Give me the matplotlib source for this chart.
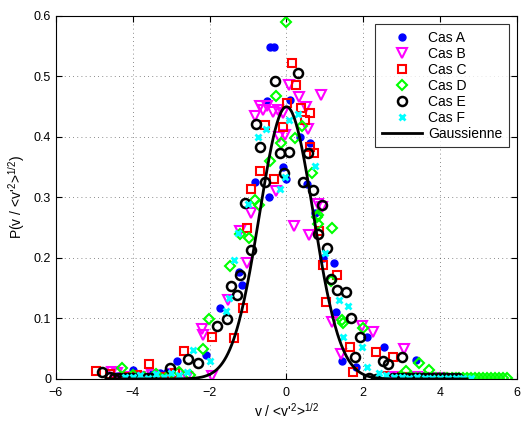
import numpy as np
import matplotlib
matplotlib.use('Agg')
import matplotlib.pyplot as plt

plt.rcParams['font.family'] = ['Liberation Sans', 'DejaVu Sans']
plt.rcParams['mathtext.fontset'] = 'custom'
plt.rcParams['mathtext.rm'] = 'Liberation Sans'
plt.rcParams['mathtext.it'] = 'Liberation Sans'

# Cas A - blue filled circles
xa = [-0.43, -0.33, 0.10, -0.50, 0.61, 0.35, -0.10, -0.01, -0.82, 0.53, 0.74, 1.24, 1.29,
      -1.73, 1.44, 2.09, 2.54, 3.36, -2.86, -4.00, -1.23, -1.17, -0.45, 0.95, -2.10,
      -3.50, -3.30, -3.10, -4.40, 2.80, 3.10, 3.60, 1.80]
ya = [0.548, 0.548, 0.461, 0.460, 0.390, 0.400, 0.350, 0.330, 0.326, 0.322, 0.274, 0.191, 0.110,
      0.117, 0.029, 0.069, 0.053, 0.032, 0.029, 0.015, 0.177, 0.155, 0.300, 0.200, 0.040,
      0.008, 0.010, 0.012, 0.005, 0.006, 0.004, 0.003, 0.020]

# Cas B - magenta triangles
xb = [0.07, 0.33, 0.51, -0.82, -0.69, -0.50, -0.36, -0.21, -0.60, -0.04, -0.20, 0.57, -0.27,
      0.83, 0.92, -0.93, 0.20, 0.59, -1.20, -1.04, -1.52, 1.18, 1.96, 2.26, -2.20, -2.17,
      1.41, 3.06, -1.95, -4.55, -4.40, -4.10, -3.80, -3.50, -3.20, -2.90, -2.60,
      2.80, 3.10, 3.40, 3.70, 4.00, 0.90, -0.10]
yb = [0.486, 0.466, 0.450, 0.435, 0.451, 0.451, 0.442, 0.445, 0.445, 0.403, 0.400, 0.414, 0.310,
      0.290, 0.285, 0.274, 0.253, 0.238, 0.245, 0.191, 0.131, 0.095, 0.088, 0.077, 0.082, 0.073,
      0.042, 0.050, 0.005, 0.012, 0.010, 0.004, 0.003, 0.006, 0.002, 0.008, 0.004,
      0.003, 0.002, 0.004, 0.002, 0.001, 0.470, 0.440]

# Cas C - red squares
xc = [0.14, 0.25, 0.02, 0.37, 0.60, 0.48, -0.55, -0.10, 0.72, -0.69, -0.33, -0.92, -1.04,
      0.85, 0.96, 1.31, -1.13, 1.04, -1.95, -1.37, 1.65, 2.33, 2.77, -2.67, -3.57, 1.74,
      -4.96, -4.60, -4.20, -3.90, -3.20, -2.90, 2.55, 3.00, 3.30, 0.62]
yc = [0.523, 0.486, 0.456, 0.448, 0.440, 0.428, 0.420, 0.416, 0.373, 0.344, 0.330, 0.314, 0.250,
      0.245, 0.188, 0.172, 0.117, 0.128, 0.069, 0.067, 0.053, 0.045, 0.037, 0.046, 0.024, 0.012,
      0.013, 0.008, 0.004, 0.006, 0.003, 0.010, 0.005, 0.003, 0.002, 0.384]

# Cas D - green diamonds
xd = [0.00, -0.27, -0.15, 0.40, 0.22, -0.43, 0.66, -0.82, -0.71, 0.83, 0.79, -1.21, -0.97,
      0.83, 1.19, -1.47, 1.17, -2.01, 1.45, 1.98, -2.17, 3.46, 3.70, -4.29, 3.11, 1.48,
      -4.00, -3.70, -3.40, -3.10, -2.80, -2.50,
      2.96, 3.07, 3.17, 3.27, 3.37, 3.48, 3.58, 3.68, 3.78, 3.89, 3.99, 4.09, 4.19, 4.30,
      4.40, 4.50, 4.60, 4.71, 4.81, 4.91, 5.01, 5.12, 5.22, 5.32, 5.42, 5.53, 5.63, 5.73]
yd = [0.590, 0.467, 0.390, 0.418, 0.398, 0.360, 0.340, 0.296, 0.288, 0.271, 0.268, 0.240, 0.233,
      0.257, 0.250, 0.186, 0.162, 0.099, 0.097, 0.085, 0.050, 0.026, 0.015, 0.018, 0.014, 0.093,
      0.006, 0.004, 0.008, 0.003, 0.012, 0.006,
      0.003, 0.002, 0.002, 0.002, 0.001, 0.002, 0.001, 0.001, 0.001, 0.001, 0.001, 0.001, 0.001, 0.001,
      0.001, 0.001, 0.001, 0.001, 0.001, 0.001, 0.001, 0.001, 0.001, 0.001, 0.001, 0.001, 0.001, 0.001]

# Cas E - black open circles
xe = [0.31, -0.30, -0.80, -0.69, -0.17, 0.06, 0.57, -0.07, -0.56, 0.42, 0.69, -1.07, 0.92,
      0.83, -0.93, 1.06, -1.20, 1.15, -1.45, -1.30, 1.32, 1.55, -1.54, 1.67, -1.82, 1.91,
      1.79, -2.56, -2.30, 2.52, 2.65, 3.00, -3.02, -4.79, 2.16, 2.33,
      -4.60, -4.48, -4.36, -4.24, -4.12, -4.00, -3.88, -3.76, -3.64, -3.52,
      2.77, 2.90, 3.03, 3.16, 3.29, 3.42, 3.55, 3.68, 3.81, 3.94, 4.07, 4.20, 4.33, 4.46]
ye = [0.505, 0.493, 0.421, 0.384, 0.374, 0.375, 0.374, 0.340, 0.326, 0.326, 0.312, 0.291, 0.288,
      0.240, 0.214, 0.216, 0.172, 0.165, 0.153, 0.138, 0.147, 0.143, 0.099, 0.101, 0.088, 0.069,
      0.037, 0.033, 0.026, 0.029, 0.025, 0.036, 0.018, 0.012, 0.002, 0.000,
      0.003, 0.002, 0.002, 0.002, 0.001, 0.001, 0.001, 0.002, 0.001, 0.001,
      0.002, 0.001, 0.001, 0.002, 0.001, 0.001, 0.001, 0.001, 0.001, 0.001, 0.001, 0.001, 0.001, 0.001]

# Cas F - cyan crosses
xf = [0.31, 0.07, -0.73, -0.52, 0.74, -0.04, -0.17, -1.00, -1.25, 0.99, -1.36, -1.50, 1.38,
      1.61, -1.58, 1.48, 1.96, -2.43, 2.10, -2.00,
      -4.20, -4.00, -3.80, -3.60, -3.40, -3.20, -3.00, -2.80, -2.60,
      2.40, 2.60, 2.80, 3.00, 3.20, 3.40, 3.60, 3.80, 4.00, 4.20, 4.40, 4.60, 4.80]
yf = [0.438, 0.428, 0.400, 0.413, 0.352, 0.334, 0.314, 0.289, 0.241, 0.208, 0.196, 0.134, 0.131,
      0.121, 0.113, 0.070, 0.053, 0.048, 0.020, 0.030,
      0.004, 0.003, 0.006, 0.002, 0.008, 0.004, 0.010, 0.006, 0.012,
      0.010, 0.006, 0.004, 0.003, 0.002, 0.003, 0.002, 0.001, 0.002, 0.001, 0.001, 0.001, 0.001]

# Gaussian fit
g_amp = 0.45
g_sigma = 0.70
g_x = np.linspace(-4.7, 4.7, 400)
g_y = g_amp * np.exp(-g_x**2 / (2 * g_sigma**2))

fig = plt.figure(figsize=(5.23, 4.21), dpi=100)
ax = fig.add_axes([0.107, 0.0998, 0.8815, 0.8622])

ax.plot(xa, ya, 'o', color='#0000ff', mec='#0000ff', ms=5, ls='none', label='Cas A')
ax.plot(xb, yb, 'v', mfc='none', mec='#ff00ff', ms=7, mew=1.5, ls='none', label='Cas B')
ax.plot(xc, yc, 's', mfc='none', mec='#ff0000', ms=5.5, mew=1.5, ls='none', label='Cas C')
ax.plot(xd, yd, 'D', mfc='none', mec='#00ff00', ms=5.5, mew=1.5, ls='none', label='Cas D')
ax.plot(xe, ye, 'o', mfc='none', mec='k', ms=6.5, mew=1.8, ls='none', label='Cas E')
ax.plot(xf, yf, 'x', color='#00ffff', ms=4.5, mew=2, ls='none', label='Cas F')
ax.plot(g_x, g_y, 'k-', lw=2, label='Gaussienne')

ax.set_xlim(-6, 6)
ax.set_ylim(0, 0.6)
ax.set_xticks(np.arange(-6, 7, 2))
ax.set_yticks(np.arange(0, 0.61, 0.1))
ax.set_xticklabels(['\u22126', '\u22124', '\u22122', '0', '2', '4', '6'])
ax.set_yticklabels(['0', '0.1', '0.2', '0.3', '0.4', '0.5', '0.6'])
ax.tick_params(direction='in', top=True, right=True, labelsize=9, length=4)
ax.tick_params(axis='x', pad=6)
ax.grid(True, ls=(0, (1, 4)), color='k', lw=0.6, alpha=0.6)
for s in ax.spines.values():
    s.set_linewidth(0.8)

ax.set_xlabel(r"v / <v'$^{2}$>$^{1/2}$", fontsize=10, labelpad=2)
ax.set_ylabel(r"P(v / <v'$^{2}$>$^{1/2}$)", fontsize=10, labelpad=5)

leg = ax.legend(loc='upper right', fontsize=10, frameon=True, fancybox=False,
                edgecolor='k', handlelength=2.9, labelspacing=0.15, handletextpad=0.45,
                borderpad=0.45, borderaxespad=0.6, numpoints=1)
leg.get_frame().set_linewidth(0.8)

fig.savefig('out.png', dpi=100)
